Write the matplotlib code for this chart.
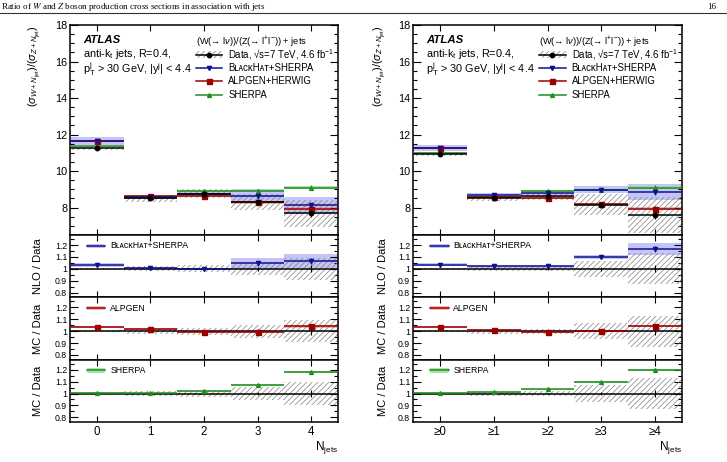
import matplotlib
matplotlib.use('Agg')
import matplotlib.pyplot as plt
import numpy as np
from matplotlib.ticker import MultipleLocator, FixedLocator, FuncFormatter
from matplotlib.lines import Line2D
from matplotlib.patches import Rectangle

plt.rcParams['font.family'] = ['Liberation Sans', 'DejaVu Sans']
plt.rcParams['mathtext.fontset'] = 'custom'
plt.rcParams['mathtext.rm'] = 'Liberation Sans'
plt.rcParams['mathtext.it'] = 'Liberation Sans:italic'
plt.rcParams['mathtext.bf'] = 'Liberation Sans:bold'
plt.rcParams['mathtext.sf'] = 'Liberation Sans'
plt.rcParams['hatch.linewidth'] = 0.5

# ---------------- data ----------------
cats_ex = ['0', '1', '2', '3', '4']
cats_in = ['≥0', '≥1', '≥2', '≥3', '≥4']

# exclusive (left)
data_ex = [11.26, 8.50, 8.76, 8.30, 7.68]
data_ex_sys = [0.10, 0.18, 0.24, 0.42, 0.75]
data_ex_stat = [0.03, 0.05, 0.07, 0.10, 0.20]
bh_ex = [11.64, 8.58, 8.74, 8.66, 8.12]
bh_ex_err = [0.20, 0.08, 0.10, 0.37, 0.48]
alp_ex = [11.64, 8.64, 8.66, 8.28, 7.95]
alp_ex_err = [0.07, 0.05, 0.06, 0.07, 0.09]
sh_ex = [11.35, 8.53, 8.92, 8.92, 9.10]
sh_ex_err = [0.03, 0.03, 0.04, 0.06, 0.08]
mc_ex_stat = [0.02, 0.03, 0.05, 0.08, 0.13]

bh_r_ex = [1.035, 1.008, 0.998, 1.045, 1.065]
bh_r_ex_err = [0.017, 0.008, 0.010, 0.045, 0.057]
alp_r_ex = [1.038, 1.020, 0.990, 0.996, 1.040]
alp_r_ex_err = [0.008, 0.007, 0.008, 0.008, 0.010]
sh_r_ex = [1.007, 1.003, 1.018, 1.072, 1.183]
sh_r_ex_err = [0.004, 0.004, 0.005, 0.006, 0.008]
data_r_ex_sys = [0.006, 0.022, 0.030, 0.055, 0.095]
data_r_ex_stat = [0.002, 0.005, 0.008, 0.015, 0.030]

# inclusive (right)
data_in = [10.92, 8.52, 8.62, 8.17, 7.58]
data_in_sys = [0.07, 0.17, 0.19, 0.57, 0.98]
data_in_stat = [0.03, 0.04, 0.06, 0.10, 0.20]
bh_in = [11.26, 8.69, 8.79, 8.98, 8.85]
bh_in_err = [0.18, 0.10, 0.10, 0.20, 0.45]
alp_in = [11.27, 8.60, 8.55, 8.20, 7.95]
alp_in_err = [0.07, 0.05, 0.06, 0.07, 0.09]
sh_in = [10.99, 8.60, 8.92, 8.98, 9.10]
sh_in_err = [0.03, 0.03, 0.04, 0.06, 0.08]
mc_in_stat = [0.02, 0.03, 0.05, 0.08, 0.15]

bh_r_in = [1.035, 1.020, 1.020, 1.100, 1.166]
bh_r_in_err = [0.015, 0.010, 0.012, 0.020, 0.050]
alp_r_in = [1.036, 1.012, 0.992, 1.004, 1.045]
alp_r_in_err = [0.008, 0.007, 0.008, 0.008, 0.010]
sh_r_in = [1.008, 1.010, 1.035, 1.097, 1.200]
sh_r_in_err = [0.004, 0.004, 0.005, 0.006, 0.008]
data_r_in_sys = [0.006, 0.020, 0.022, 0.070, 0.130]
data_r_in_stat = [0.002, 0.005, 0.008, 0.015, 0.030]

# ---------------- style ----------------
BH_C = '#101090'
BH_B = '#b0b0f5'
AL_C = '#990000'
AL_B = '#f2a0a0'
SH_C = '#1f8f1f'
SH_B = '#96dc96'
HATCH_C = '#808080'
HATCH = '//////'
SMALLCAP_BH = 'BʟᴀᴄᴋHᴀᴛ+SHERPA'

W, H = 727, 462
fig = plt.figure(figsize=(W / 100, H / 100), dpi=100)


def fx(px):
    return px / W


def fy(px):
    return 1 - px / H


# header
fig.text(fx(1), fy(9), 'Ratio of $W$ and $Z$ boson production cross sections in association with jets',
         fontfamily='Liberation Serif', math_fontfamily='stix', fontsize=6.5, va='baseline', ha='left')
fig.text(fx(716), fy(9), '16', fontfamily='Liberation Serif', fontsize=6.5, va='baseline', ha='right')
fig.add_artist(Line2D([0, 1], [fy(12.5), fy(12.5)], transform=fig.transFigure, color='#333333', lw=0.8))

edges = [25, 235, 297.3, 359.7, 422]


def style(ax, ratio):
    ax.set_xlim(-0.5, 4.5)
    ax.xaxis.set_major_locator(FixedLocator(range(5)))
    ax.tick_params(which='both', direction='in', top=True, right=True, width=0.8)
    ax.tick_params(axis='y', which='major', length=5.5)
    ax.tick_params(axis='y', which='minor', length=2.8)
    ax.tick_params(axis='x', which='major', length=4)
    for s in ax.spines.values():
        s.set_linewidth(1.1)
    if ratio:
        ax.set_ylim(0.76, 1.285)
        ax.yaxis.set_major_locator(FixedLocator([0.8, 0.9, 1.0, 1.1, 1.2]))
        ax.yaxis.set_minor_locator(MultipleLocator(0.05))
        ax.yaxis.set_major_formatter(FuncFormatter(lambda v, p: '%g' % round(v, 2)))
        ax.tick_params(axis='y', labelsize=6.3, pad=2)
    else:
        ax.set_ylim(6.5, 18)
        ax.yaxis.set_major_locator(MultipleLocator(2))
        ax.yaxis.set_minor_locator(MultipleLocator(0.5))
        ax.tick_params(axis='y', labelsize=7.8, pad=2)


def hatch_band(ax, x, val, err):
    val = np.asarray(val); err = np.asarray(err)
    ax.bar(x, 2 * err, bottom=val - err, width=1, facecolor='none', edgecolor=HATCH_C,
           hatch=HATCH, lw=0, zorder=2)


def color_band(ax, x, val, err, c, alpha=0.8):
    val = np.asarray(val); err = np.asarray(err)
    ax.bar(x, 2 * err, bottom=val - err, width=1, color=c, lw=0, alpha=alpha, zorder=1)


def series(ax, x, val, stat, c, m, ms, lw=1.1):
    ax.hlines(val, x - 0.5, x + 0.5, colors=c, lw=lw, zorder=3)
    ax.errorbar(x, val, yerr=stat, fmt=m, color=c, ms=ms, elinewidth=0.8, capsize=0, zorder=4)


def panel(x0, x1, cats, data, dsys, dstat, bh, bhe, al, ale, sh, she, mstat,
          bhr, bhre, alr, alre, shr, shre, drsys, drstat, lab_off):
    x = np.arange(len(cats))
    axes = []
    for i in range(4):
        ax = fig.add_axes([fx(x0), fy(edges[i + 1]), fx(x1 - x0), (edges[i + 1] - edges[i]) / H])
        axes.append(ax)
    am, a1, a2, a3 = axes
    # main
    style(am, False)
    color_band(am, x, bh, bhe, BH_B, 0.75)
    color_band(am, x, al, ale, AL_B, 0.8)
    color_band(am, x, sh, she, SH_B, 0.8)
    hatch_band(am, x, data, dsys)
    series(am, x, sh, mstat, SH_C, '^', 2.8)
    series(am, x, al, mstat, AL_C, 's', 3.6)
    series(am, x, bh, mstat, BH_C, 'v', 3.0)
    series(am, x, data, dstat, 'black', 'o', 3.2)
    am.set_xticklabels([])
    am.set_ylabel(r'$(\sigma_{W+N_{\rm jet}})/(\sigma_{Z+N_{\rm jet}})$', fontsize=7.9, loc='top')
    am.yaxis.set_label_coords(lab_off, 1.0)
    # text
    am.text(0.05, 0.915, 'ATLAS', transform=am.transAxes, fontsize=8.2, fontweight='bold',
            fontstyle='italic', va='baseline')
    am.text(0.05, 0.850, r'anti-k$_{\rm t}$ jets, R=0.4,', transform=am.transAxes, fontsize=7.8, va='baseline')
    am.text(0.05, 0.772, r'p$_{\rm T}^{\rm j}$ > 30 GeV, |y$^{\rm j}$| < 4.4', transform=am.transAxes,
            fontsize=7.8, va='baseline')
    # legend
    lx0, lx1, tx = 0.47, 0.567, 0.59
    am.text(lx0, 0.908, r'(W(→ l$\nu$))/(Z(→ l$^{+}$l$^{-}$)) + jets',
            transform=am.transAxes, fontsize=6.7, va='baseline')
    rows = [0.858, 0.795, 0.731, 0.667]
    hh = 0.034
    am.add_patch(Rectangle((lx0, rows[0] - hh / 2), lx1 - lx0, hh, transform=am.transAxes,
                           facecolor='none', edgecolor=HATCH_C, hatch=HATCH, lw=0, zorder=5))
    for r, c, m, ms in [(rows[0], 'black', 'o', 3.2), (rows[1], BH_C, 'v', 3.0),
                        (rows[2], AL_C, 's', 3.6), (rows[3], SH_C, '^', 2.8)]:
        am.plot([lx0, lx1], [r, r], color=c, lw=1.1, transform=am.transAxes, zorder=6)
        am.plot([(lx0 + lx1) / 2], [r], marker=m, color=c, ms=ms, transform=am.transAxes, zorder=6)
    am.text(tx, rows[0], r'Data, √s=7 TeV, 4.6 fb$^{-1}$', transform=am.transAxes, fontsize=6.9, va='center')
    am.text(tx, rows[1], SMALLCAP_BH, transform=am.transAxes, fontsize=6.9, va='center')
    am.text(tx, rows[2], 'ALPGEN+HERWIG', transform=am.transAxes, fontsize=6.9, va='center')
    am.text(tx, rows[3], 'SHERPA', transform=am.transAxes, fontsize=6.9, va='center')

    # ratios
    for ax, r, re, c, b, m, ms, lab, ylab in [
            (a1, bhr, bhre, BH_C, BH_B, 'v', 3.0, SMALLCAP_BH, 'NLO / Data'),
            (a2, alr, alre, AL_C, AL_B, 's', 3.6, 'ALPGEN', 'MC / Data'),
            (a3, shr, shre, SH_C, SH_B, '^', 2.8, 'SHERPA', 'MC / Data')]:
        style(ax, True)
        color_band(ax, x, r, re, b, 0.75)
        hatch_band(ax, x, np.ones(len(x)), drsys)
        ax.axhline(1.0, color='black', lw=1.1, zorder=3)
        ax.errorbar(x, np.ones(len(x)), yerr=drstat, fmt='none', ecolor='black', elinewidth=0.8, zorder=3)
        series(ax, x, r, np.asarray(re) * 0.5, c, m, ms)
        ax.set_ylabel(ylab, fontsize=8)
        ax.yaxis.set_label_coords(lab_off, 0.5)
        ax.add_patch(Rectangle((0.064, 0.827 - 0.035), 0.068, 0.07, transform=ax.transAxes,
                               facecolor=b, edgecolor='none', alpha=0.8, zorder=5))
        ax.plot([0.064, 0.132], [0.827, 0.827], color=c, lw=1.1, transform=ax.transAxes, zorder=6)
        ax.text(0.15, 0.827, lab, transform=ax.transAxes, fontsize=6.3, va='center')
        if ax is a3:
            ax.set_xticks(x)
            ax.set_xticklabels(cats, fontsize=8.3)
            ax.tick_params(axis='x', pad=3)
            ax.text(1.0, -0.45, r'N$_{\rm jets}$', transform=ax.transAxes, fontsize=8.5,
                    ha='right', va='baseline')
        else:
            ax.set_xticklabels([])


panel(70, 338, cats_ex, data_ex, data_ex_sys, data_ex_stat, bh_ex, bh_ex_err, alp_ex, alp_ex_err,
      sh_ex, sh_ex_err, mc_ex_stat, bh_r_ex, bh_r_ex_err, alp_r_ex, alp_r_ex_err, sh_r_ex, sh_r_ex_err,
      data_r_ex_sys, data_r_ex_stat, -0.1)
panel(413, 682, cats_in, data_in, data_in_sys, data_in_stat, bh_in, bh_in_err, alp_in, alp_in_err,
      sh_in, sh_in_err, mc_in_stat, bh_r_in, bh_r_in_err, alp_r_in, alp_r_in_err, sh_r_in, sh_r_in_err,
      data_r_in_sys, data_r_in_stat, -0.093)

fig.savefig('out.png', dpi=100)
